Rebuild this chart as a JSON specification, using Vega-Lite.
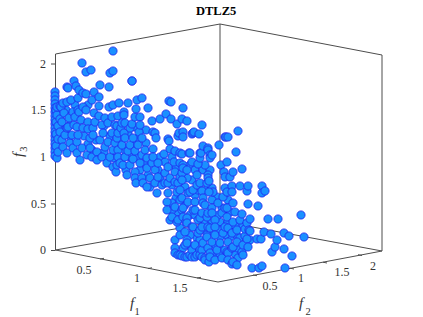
{"$schema":"https://vega.github.io/schema/vega-lite/v6.json","width":423,"height":317,"padding":0,"autosize":{"type":"none"},"background":"white","view":{"stroke":null},
"title":{"text":"DTLZ5","font":"Liberation Serif","fontSize":12.5,"fontWeight":"bold","color":"#000000","anchor":"start","offset":-17,"dx":196},
"datasets":{
"edges":[{"e":"a","u":55.5,"v":250},{"e":"a","u":55.5,"v":54},{"e":"a","u":220,"v":24},{"e":"a","u":382,"v":55},{"e":"a","u":382,"v":251},{"e":"b","u":220,"v":24},{"e":"b","u":220,"v":221},{"e":"c","u":55.5,"v":250},{"e":"c","u":220,"v":221},{"e":"c","u":382,"v":251},{"e":"d","u":55.5,"v":250},{"e":"d","u":218,"v":282},{"e":"d","u":382,"v":251},
{"e":"z0","u":51,"v":250.5},{"e":"z0","u":55.5,"v":250.5},{"e":"z1","u":51,"v":204},{"e":"z1","u":55.5,"v":204},{"e":"z2","u":51,"v":157},{"e":"z2","u":55.5,"v":157},{"e":"z3","u":51,"v":110.5},{"e":"z3","u":55.5,"v":110.5},{"e":"z4","u":51,"v":64},{"e":"z4","u":55.5,"v":64},
{"e":"x1","u":100,"v":259},{"e":"x1","u":104,"v":258.3},{"e":"x2","u":148,"v":268.5},{"e":"x2","u":152,"v":267.8},{"e":"x3","u":197,"v":278},{"e":"x3","u":201,"v":277.3},
{"e":"y1","u":257,"v":275.7},{"e":"y1","u":253,"v":275},{"e":"y2","u":294,"v":269},{"e":"y2","u":290,"v":268.2},{"e":"y3","u":327,"v":263},{"e":"y3","u":323,"v":262.2},{"e":"y4","u":362,"v":255.5},{"e":"y4","u":358,"v":254.7}],
"labels":[{"t":"0","u":46,"v":250},{"t":"0.5","u":46,"v":204},{"t":"1","u":46,"v":157},{"t":"1.5","u":46,"v":110},{"t":"2","u":46,"v":64}],
"labels2":[{"t":"0.5","u":84,"v":270},{"t":"1","u":137,"v":278},{"t":"1.5","u":180,"v":288},{"t":"0.5","u":270,"v":286},{"t":"1","u":301,"v":278},{"t":"1.5","u":342,"v":272},{"t":"2","u":373,"v":266}],
"fnames":[{"t":"f","u":132,"v":303},{"t":"f","u":301,"v":303}],
"fsubs":[{"t":"1","u":137,"v":312},{"t":"2","u":308,"v":312}],
"points":[
{"u":75,"v":105},{"u":88,"v":105},{"u":66,"v":110},{"u":70,"v":125},{"u":84,"v":136},{"u":96,"v":140},{"u":88,"v":144},{"u":104,"v":126},{"u":110,"v":136},{"u":104,"v":152},{"u":92,"v":150},{"u":70,"v":136},{"u":64,"v":127},{"u":120,"v":142},{"u":114,"v":158},{"u":125,"v":150},{"u":134,"v":145},{"u":128,"v":133},{"u":138,"v":138},{"u":134,"v":127},{"u":146,"v":143},{"u":146,"v":130},{"u":130,"v":157},{"u":126,"v":170},{"u":122,"v":158},{"u":138,"v":157},{"u":145,"v":163},{"u":140,"v":170},{"u":150,"v":158},{"u":148,"v":175},{"u":158,"v":170},{"u":160,"v":157},{"u":165,"v":162},{"u":172,"v":157},{"u":176,"v":168},{"u":172,"v":185},{"u":160,"v":178},{"u":150,"v":187},{"u":176,"v":198},{"u":172,"v":203},{"u":185,"v":187},{"u":192,"v":180},{"u":187,"v":178},{"u":190,"v":165},{"u":195,"v":170},{"u":203,"v":170},{"u":205,"v":190},{"u":195,"v":195},{"u":185,"v":205},{"u":178,"v":212},{"u":172,"v":210},{"u":190,"v":215},{"u":195,"v":215},{"u":205,"v":222},{"u":212,"v":222},{"u":220,"v":222},{"u":218,"v":215},{"u":230,"v":212},{"u":235,"v":212},{"u":220,"v":230},{"u":212,"v":232},{"u":205,"v":230},{"u":197,"v":238},{"u":190,"v":235},{"u":180,"v":228},{"u":175,"v":240},{"u":183,"v":248},{"u":190,"v":246},{"u":200,"v":240},{"u":205,"v":248},{"u":215,"v":245},{"u":222,"v":250},{"u":230,"v":237},{"u":238,"v":237},{"u":240,"v":226},{"u":235,"v":226},{"u":225,"v":235},{"u":220,"v":237},{"u":228,"v":222},{"u":222,"v":208},{"u":217,"v":197},{"u":212,"v":200},{"u":228,"v":200},{"u":215,"v":253},{"u":220,"v":254},{"u":235,"v":254},{"u":238,"v":248},{"u":240,"v":238},{"u":245,"v":236},{"u":250,"v":240},{"u":238,"v":258},{"u":212,"v":188},{"u":210,"v":170},{"u":205,"v":165},{"u":198,"v":190},{"u":213,"v":192},
{"u":55,"v":92},{"u":55,"v":96},{"u":55,"v":100},{"u":55,"v":104},{"u":55,"v":108},{"u":55,"v":112},{"u":55,"v":116},{"u":55,"v":120},{"u":55,"v":124},{"u":55,"v":128},{"u":55,"v":132},{"u":55,"v":136},{"u":55,"v":140},{"u":55,"v":144},{"u":55,"v":148},{"u":55,"v":152},{"u":55,"v":156},{"u":56,"v":110},{"u":56,"v":122},{"u":56,"v":134},{"u":56,"v":146},{"u":57,"v":158},{"u":57,"v":115},{"u":57,"v":107},{"u":58,"v":126},{"u":58,"v":139},{"u":58,"v":152},{"u":60,"v":106},{"u":60,"v":132},{"u":60,"v":119},{"u":61,"v":107},{"u":62,"v":122},{"u":62,"v":140},{"u":63,"v":147},{"u":63,"v":103},{"u":64,"v":113},{"u":65,"v":135},{"u":67,"v":87},{"u":67,"v":128},{"u":67,"v":153},{"u":67,"v":102},{"u":68,"v":88},{"u":68,"v":127},{"u":69,"v":118},{"u":70,"v":143},{"u":71,"v":100},{"u":72,"v":135},{"u":73,"v":112},{"u":73,"v":148},{"u":74,"v":81},{"u":74,"v":125},{"u":75,"v":117},{"u":76,"v":86},{"u":77,"v":127},{"u":77,"v":142},{"u":77,"v":153},{"u":78,"v":98},{"u":78,"v":135},{"u":78,"v":110},{"u":79,"v":90},{"u":79,"v":112},{"u":80,"v":160},{"u":81,"v":120},{"u":82,"v":63},{"u":82,"v":148},{"u":83,"v":93},{"u":83,"v":107},{"u":83,"v":128},{"u":86,"v":72},{"u":86,"v":94},{"u":86,"v":110},{"u":87,"v":155},{"u":88,"v":122},{"u":88,"v":129},{"u":90,"v":138},{"u":90,"v":148},{"u":91,"v":70},{"u":92,"v":100},{"u":92,"v":157},{"u":93,"v":128},{"u":93,"v":135},{"u":94,"v":92},{"u":94,"v":113},{"u":95,"v":122},{"u":97,"v":152},{"u":97,"v":160},{"u":99,"v":97},{"u":99,"v":106},{"u":99,"v":116},{"u":100,"v":85},{"u":100,"v":140},{"u":102,"v":125},{"u":102,"v":157},{"u":103,"v":133},{"u":105,"v":118},{"u":105,"v":147},{"u":107,"v":163},{"u":108,"v":123},{"u":108,"v":142},{"u":109,"v":87},{"u":109,"v":107},{"u":110,"v":157},{"u":110,"v":73},{"u":112,"v":117},{"u":112,"v":133},{"u":113,"v":51},{"u":113,"v":71},{"u":113,"v":105},{"u":113,"v":150},{"u":113,"v":167},{"u":115,"v":125},{"u":115,"v":143},{"u":116,"v":172},{"u":117,"v":126},{"u":117,"v":138},{"u":117,"v":165},{"u":118,"v":116},{"u":118,"v":133},{"u":118,"v":150},{"u":118,"v":157},{"u":119,"v":103},{"u":120,"v":163},{"u":121,"v":128},{"u":122,"v":123},{"u":122,"v":145},{"u":123,"v":165},{"u":124,"v":112},{"u":124,"v":115},{"u":124,"v":133},{"u":125,"v":123},{"u":125,"v":138},{"u":125,"v":157},{"u":127,"v":175},{"u":128,"v":103},{"u":128,"v":151},{"u":130,"v":128},{"u":130,"v":145},{"u":130,"v":165},{"u":132,"v":81},{"u":132,"v":81},{"u":132,"v":124},{"u":133,"v":138},{"u":133,"v":159},{"u":135,"v":117},{"u":135,"v":151},{"u":135,"v":172},{"u":135,"v":178},{"u":136,"v":109},{"u":136,"v":183},{"u":137,"v":100},{"u":138,"v":145},{"u":139,"v":132},{"u":140,"v":117},{"u":140,"v":125},{"u":140,"v":163},{"u":142,"v":98},{"u":142,"v":138},{"u":142,"v":155},{"u":142,"v":178},{"u":143,"v":183},{"u":145,"v":150},{"u":147,"v":158},{"u":147,"v":168},{"u":147,"v":187},{"u":148,"v":108},{"u":150,"v":178},{"u":152,"v":121},{"u":152,"v":163},{"u":153,"v":132},{"u":153,"v":149},{"u":153,"v":157},{"u":155,"v":133},{"u":155,"v":170},{"u":155,"v":183},{"u":156,"v":138},{"u":157,"v":193},{"u":158,"v":163},{"u":158,"v":177},{"u":160,"v":119},{"u":162,"v":185},{"u":164,"v":154},{"u":165,"v":173},{"u":165,"v":183},{"u":166,"v":114},{"u":167,"v":202},{"u":167,"v":210},{"u":168,"v":139},{"u":168,"v":167},{"u":168,"v":183},{"u":168,"v":193},{"u":169,"v":101},{"u":169,"v":141},{"u":170,"v":149},{"u":170,"v":178},{"u":170,"v":220},{"u":171,"v":102},{"u":171,"v":119},{"u":172,"v":217},{"u":174,"v":162},{"u":175,"v":151},{"u":175,"v":172},{"u":175,"v":182},{"u":175,"v":207},{"u":175,"v":248},{"u":175,"v":253},{"u":177,"v":124},{"u":177,"v":192},{"u":177,"v":222},{"u":178,"v":136},{"u":178,"v":183},{"u":178,"v":220},{"u":178,"v":255},{"u":179,"v":133},{"u":180,"v":153},{"u":180,"v":163},{"u":180,"v":177},{"u":180,"v":190},{"u":180,"v":200},{"u":180,"v":235},{"u":180,"v":255},{"u":182,"v":119},{"u":182,"v":154},{"u":182,"v":173},{"u":182,"v":180},{"u":182,"v":198},{"u":182,"v":210},{"u":182,"v":256},{"u":183,"v":108},{"u":183,"v":132},{"u":183,"v":137},{"u":183,"v":165},{"u":183,"v":168},{"u":183,"v":208},{"u":183,"v":217},{"u":185,"v":232},{"u":185,"v":245},{"u":185,"v":257},{"u":186,"v":222},{"u":187,"v":121},{"u":187,"v":170},{"u":187,"v":218},{"u":187,"v":223},{"u":187,"v":240},{"u":187,"v":243},{"u":187,"v":257},{"u":188,"v":193},{"u":188,"v":202},{"u":189,"v":153},{"u":190,"v":153},{"u":190,"v":192},{"u":190,"v":255},{"u":192,"v":134},{"u":192,"v":162},{"u":192,"v":227},{"u":192,"v":250},{"u":192,"v":257},{"u":193,"v":133},{"u":193,"v":190},{"u":193,"v":210},{"u":193,"v":227},{"u":194,"v":132},{"u":195,"v":202},{"u":195,"v":210},{"u":195,"v":245},{"u":195,"v":257},{"u":197,"v":175},{"u":197,"v":185},{"u":197,"v":255},{"u":198,"v":164},{"u":198,"v":220},{"u":198,"v":233},{"u":199,"v":134},{"u":200,"v":153},{"u":200,"v":158},{"u":200,"v":183},{"u":200,"v":218},{"u":200,"v":230},{"u":200,"v":250},{"u":200,"v":255},{"u":201,"v":153},{"u":202,"v":125},{"u":202,"v":191},{"u":202,"v":213},{"u":202,"v":227},{"u":202,"v":250},{"u":202,"v":257},{"u":203,"v":146},{"u":203,"v":198},{"u":203,"v":203},{"u":203,"v":243},{"u":205,"v":205},{"u":205,"v":258},{"u":205,"v":260},{"u":207,"v":183},{"u":207,"v":217},{"u":207,"v":235},{"u":207,"v":237},{"u":208,"v":148},{"u":208,"v":150},{"u":208,"v":175},{"u":208,"v":178},{"u":208,"v":213},{"u":208,"v":227},{"u":208,"v":248},{"u":209,"v":181},{"u":209,"v":192},{"u":209,"v":262},{"u":210,"v":155},{"u":210,"v":158},{"u":210,"v":228},{"u":210,"v":253},{"u":210,"v":257},{"u":212,"v":155},{"u":212,"v":208},{"u":212,"v":213},{"u":212,"v":242},{"u":215,"v":220},{"u":215,"v":227},{"u":215,"v":235},{"u":215,"v":260},{"u":217,"v":250},{"u":218,"v":203},{"u":219,"v":145},{"u":220,"v":243},{"u":221,"v":165},{"u":222,"v":213},{"u":222,"v":258},{"u":223,"v":197},{"u":223,"v":233},{"u":224,"v":172},{"u":225,"v":137},{"u":225,"v":177},{"u":225,"v":188},{"u":225,"v":208},{"u":225,"v":227},{"u":225,"v":250},{"u":226,"v":137},{"u":227,"v":162},{"u":227,"v":192},{"u":227,"v":208},{"u":227,"v":217},{"u":227,"v":252},{"u":228,"v":137},{"u":228,"v":228},{"u":228,"v":242},{"u":228,"v":253},{"u":228,"v":260},{"u":230,"v":177},{"u":232,"v":186},{"u":232,"v":192},{"u":232,"v":233},{"u":232,"v":248},{"u":232,"v":264},{"u":233,"v":172},{"u":233,"v":203},{"u":233,"v":222},{"u":233,"v":247},{"u":233,"v":262},{"u":236,"v":152},{"u":237,"v":230},{"u":237,"v":242},{"u":237,"v":265},{"u":238,"v":131},{"u":240,"v":186},{"u":240,"v":220},{"u":242,"v":169},{"u":242,"v":214},{"u":242,"v":252},{"u":243,"v":245},{"u":243,"v":255},{"u":245,"v":229},{"u":247,"v":191},{"u":247,"v":223},{"u":247,"v":239},{"u":248,"v":186},{"u":248,"v":204},{"u":248,"v":247},{"u":249,"v":230},{"u":250,"v":219},{"u":250,"v":231},{"u":252,"v":268},{"u":257,"v":239},{"u":258,"v":206},{"u":259,"v":268},{"u":261,"v":239},{"u":262,"v":186},{"u":262,"v":193},{"u":262,"v":266},{"u":264,"v":232},{"u":265,"v":191},{"u":268,"v":219},{"u":271,"v":234},{"u":272,"v":252},{"u":275,"v":247},{"u":277,"v":240},{"u":278,"v":219},{"u":284,"v":233},{"u":284,"v":249},{"u":285,"v":268},{"u":289,"v":236},{"u":292,"v":256},{"u":301,"v":215},{"u":304,"v":237}
]},
"encoding":{"x":{"field":"u","type":"quantitative","scale":{"domain":[0,423],"nice":false,"zero":false},"axis":null},"y":{"field":"v","type":"quantitative","scale":{"domain":[317,0],"nice":false,"zero":false},"axis":null}},
"layer":[
{"data":{"name":"edges"},"mark":{"type":"line","stroke":"#4d4d4d","strokeWidth":1},"encoding":{"detail":{"field":"e"},"order":{"field":"__none"}}},
{"data":{"name":"points"},"mark":{"type":"point","shape":"circle","filled":true,"fill":"#1a90ff","stroke":"#2222ee","strokeWidth":0.8,"opacity":1,"size":68}},
{"data":{"name":"labels"},"mark":{"type":"text","font":"Liberation Serif","fontSize":12,"align":"right","baseline":"middle","color":"#333333"},"encoding":{"text":{"field":"t"}}},
{"data":{"name":"labels2"},"mark":{"type":"text","font":"Liberation Serif","fontSize":12,"align":"center","baseline":"middle","color":"#333333"},"encoding":{"text":{"field":"t"}}},
{"data":{"name":"fnames"},"mark":{"type":"text","font":"Liberation Serif","fontSize":15,"fontStyle":"italic","align":"center","baseline":"middle","color":"#333333"},"encoding":{"text":{"field":"t"}}},
{"data":{"name":"fsubs"},"mark":{"type":"text","font":"Liberation Serif","fontSize":10.5,"align":"center","baseline":"middle","color":"#333333"},"encoding":{"text":{"field":"t"}}},
{"data":{"values":[{"t":"f","u":18,"v":155}]},"mark":{"type":"text","font":"Liberation Serif","fontSize":15,"fontStyle":"italic","angle":270,"align":"center","baseline":"middle","color":"#333333"},"encoding":{"text":{"field":"t"}}},
{"data":{"values":[{"t":"3","u":24,"v":149}]},"mark":{"type":"text","font":"Liberation Serif","fontSize":10.5,"angle":270,"align":"center","baseline":"middle","color":"#333333"},"encoding":{"text":{"field":"t"}}}
]}
